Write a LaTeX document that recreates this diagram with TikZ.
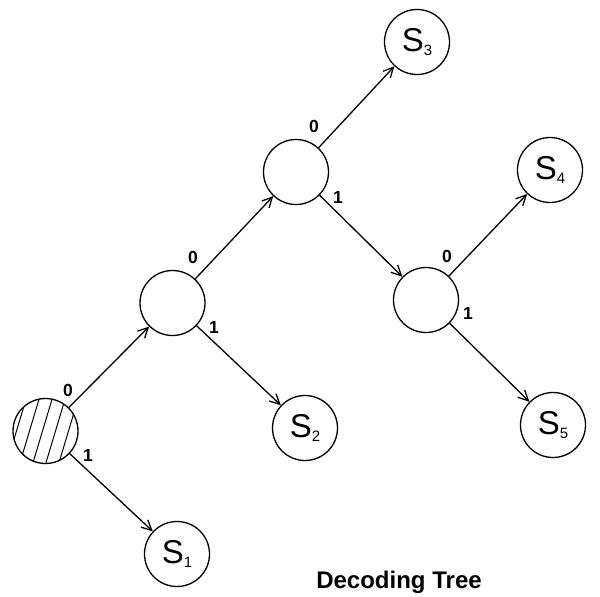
\documentclass[tikz,border=0pt]{standalone}
\usepackage{fontspec}
\setmainfont{Liberation Sans}
\usetikzlibrary{arrows.meta,calc}
\begin{document}
\begin{tikzpicture}[x=1pt,y=1pt,
  state/.style={circle,draw,line width=1.3pt,minimum size=65pt,inner sep=0pt},
  edge/.style={line width=1.3pt,-{Straight Barb[length=10pt,width=10pt,line width=1.3pt]}},
  bit/.style={font=\fontsize{17.5}{17.5}\selectfont\bfseries,inner sep=0pt},
  slabel/.style={font=\fontsize{33}{33}\selectfont}]
\useasboundingbox (0,0) rectangle (600,-597);
\newcommand{\sname}[1]{S\raisebox{-4pt}{\fontsize{15}{15}\selectfont #1}}
\node[state] (root) at (45.5,-431) {};
\begin{scope}
  \clip (root.center) circle (32.5pt);
  \foreach \i in {-4,...,4} {
    \draw[line width=1pt] ($(root.center)+(\i*13-15,-40)$) -- ++(30,100);
  }
\end{scope}
\node[state] (a) at (172.5,-303) {};
\node[state] (b) at (296,-172) {};
\node[state] (c) at (426,-300) {};
\node[state,slabel] (s1) at (177,-554) {\sname{1}};
\node[state,slabel] (s2) at (305,-428) {\sname{2}};
\node[state,slabel] (s3) at (417,-42) {\sname{3}};
\node[state,slabel] (s4) at (550,-170) {\sname{4}};
\node[state,slabel] (s5) at (553,-425) {\sname{5}};
\draw[edge] (root) -- (a);
\draw[edge] (root) -- (s1);
\draw[edge] (a) -- (b);
\draw[edge] (a) -- (s2);
\draw[edge] (b) -- (s3);
\draw[edge] (b) -- (c);
\draw[edge] (c) -- (s4);
\draw[edge] (c) -- (s5);
\node[bit] (l1) at (68,-390) {0};
\node[bit] (l2) at (88,-455) {1};
\node[bit] (l3) at (193,-257) {0};
\node[bit] (l4) at (214,-327) {1};
\node[bit] (l5) at (314,-126) {0};
\node[bit] (l6) at (338,-197) {1};
\node[bit] (l7) at (447,-256) {0};
\node[bit] (l8) at (468,-313) {1};
\node[font=\fontsize{24}{24}\selectfont\bfseries] (title) at (399,-582) {Decoding Tree};
\end{tikzpicture}
\end{document}
